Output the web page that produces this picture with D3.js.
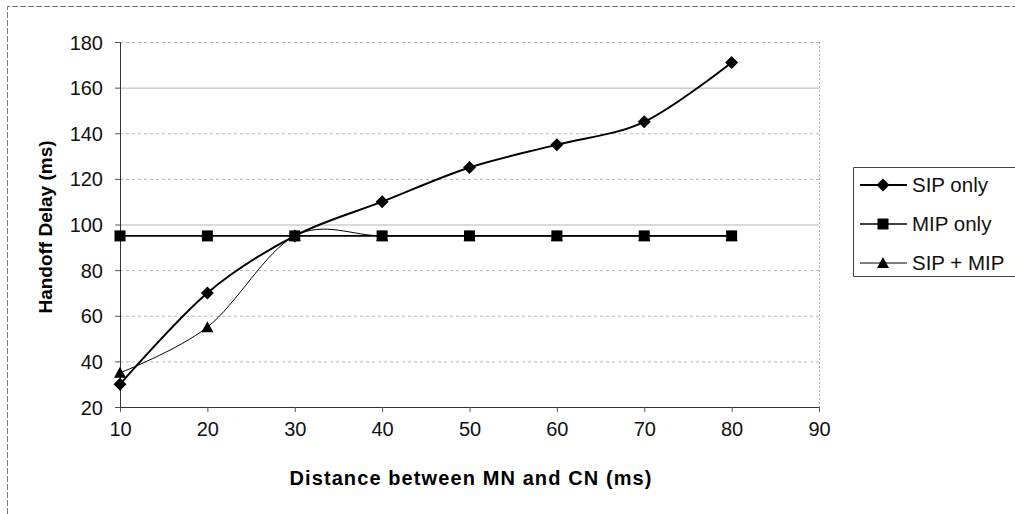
<!DOCTYPE html>
<html>
<head>
<meta charset="utf-8">
<script src="https://cdn.jsdelivr.net/npm/d3@7"></script>
<style>
  body { margin: 0; background: #fff; }
  svg { font-family: "Liberation Sans", Arial, sans-serif; }
</style>
</head>
<body>
<svg id="chart" width="1015" height="514"></svg>
<script>
// data
const distances = [10, 20, 30, 40, 50, 60, 70, 80];
const sipOnly = [30, 70, 95, 110, 125, 135, 145, 171];
const mipOnly = [95, 95, 95, 95, 95, 95, 95, 95];
const sipMip = [35, 55, 95, 95, 95, 95, 95, 95];
const xTicks = [10, 20, 30, 40, 50, 60, 70, 80, 90];
const yTicks = [20, 40, 60, 80, 100, 120, 140, 160, 180];

const series = [
  { name: "SIP only", values: sipOnly, marker: "diamond", width: 2 },
  { name: "MIP only", values: mipOnly, marker: "square", width: 1.6 },
  { name: "SIP + MIP", values: sipMip, marker: "triangle", width: 1 }
];

const svg = d3.select("#chart");
const plotL = 120, plotR = 819, plotT = 42, plotB = 407;

const x = d3.scaleLinear().domain([10, 90]).range([plotL, plotR]);
const y = d3.scaleLinear().domain([20, 180]).range([plotB, plotT]);

// outer frame (scanned, partly dashed)
svg.append("path")
  .attr("d", "M7.5,514 V6.5 H1015")
  .attr("fill", "none")
  .attr("stroke", "#777")
  .attr("stroke-dasharray", "6,2");

// gridlines
svg.append("g")
  .selectAll("line")
  .data(yTicks.slice(1))
  .join("line")
  .attr("x1", plotL).attr("x2", plotR)
  .attr("y1", d => y(d) + 0.5).attr("y2", d => y(d) + 0.5)
  .attr("stroke", "#b4b4b4")
  .attr("stroke-dasharray", d => (d === 160 || d === 100) ? null : "3,3");

// right border of plot
svg.append("line")
  .attr("x1", plotR + 0.5).attr("x2", plotR + 0.5)
  .attr("y1", plotT).attr("y2", plotB)
  .attr("stroke", "#aaa")
  .attr("stroke-dasharray", "2,2");

// axes
const xAxis = d3.axisBottom(x).tickValues(xTicks).tickSize(5).tickPadding(10);
const yAxis = d3.axisLeft(y).tickValues(yTicks).tickSize(5).tickPadding(12);

const gx = svg.append("g").attr("transform", `translate(0,${plotB})`).call(xAxis);
const gy = svg.append("g").attr("transform", `translate(${plotL},0)`).call(yAxis);

[gx, gy].forEach(g => {
  g.select(".domain").attr("stroke", "#333");
  g.selectAll(".tick line").attr("stroke", "#555");
  g.selectAll("text")
    .attr("font-size", 20)
    .attr("fill", "#111")
    .style("font-family", "Liberation Sans, Arial, sans-serif");
});
gy.selectAll("text").attr("dy", "0.35em");

// axis titles
svg.append("text")
  .attr("x", 471)
  .attr("y", 485)
  .attr("text-anchor", "middle")
  .attr("font-size", 20)
  .attr("font-weight", "bold")
  .attr("letter-spacing", 1.1)
  .text("Distance between MN and CN (ms)");

svg.append("text")
  .attr("transform", `translate(52,227) rotate(-90)`)
  .attr("text-anchor", "middle")
  .attr("font-size", 19)
  .attr("font-weight", "bold")
  .text("Handoff Delay (ms)");

// marker shapes
function markerPath(type) {
  if (type === "diamond") return "M0,-6.5 L6.5,0 L0,6.5 L-6.5,0 Z";
  if (type === "square") return "M-5.5,-5.5 H5.5 V5.5 H-5.5 Z";
  return "M0,-6 L6,5 L-6,5 Z";
}

const line = d3.line()
  .x((d, i) => x(distances[i]))
  .y(d => y(d))
  .curve(d3.curveCardinal.tension(0));

const plot = svg.append("g");

series.forEach(s => {
  plot.append("path")
    .datum(s.values)
    .attr("d", line)
    .attr("fill", "none")
    .attr("stroke", "#000")
    .attr("stroke-width", s.width);
});

series.forEach(s => {
  plot.append("g")
    .selectAll("path")
    .data(s.values)
    .join("path")
    .attr("transform", (d, i) => `translate(${x(distances[i])},${y(d)})`)
    .attr("d", markerPath(s.marker))
    .attr("fill", "#000");
});

// legend
const legend = svg.append("g");
legend.append("path")
  .attr("d", "M1015,167.5 H853.5 V276.5 H1015")
  .attr("fill", "#fff")
  .attr("stroke", "#444");

const ly = d3.scalePoint().domain(series.map(s => s.name)).range([185, 263]);

series.forEach(s => {
  const g = legend.append("g").attr("transform", `translate(0,${ly(s.name)})`);
  g.append("line")
    .attr("x1", 860).attr("x2", 907)
    .attr("stroke", "#000")
    .attr("stroke-width", s.width);
  g.append("path")
    .attr("transform", "translate(883,0)")
    .attr("d", markerPath(s.marker))
    .attr("fill", "#000");
  g.append("text")
    .attr("x", 912)
    .attr("dy", "0.35em")
    .attr("font-size", 20.5)
    .attr("fill", "#111")
    .text(s.name);
});
</script>
</body>
</html>
